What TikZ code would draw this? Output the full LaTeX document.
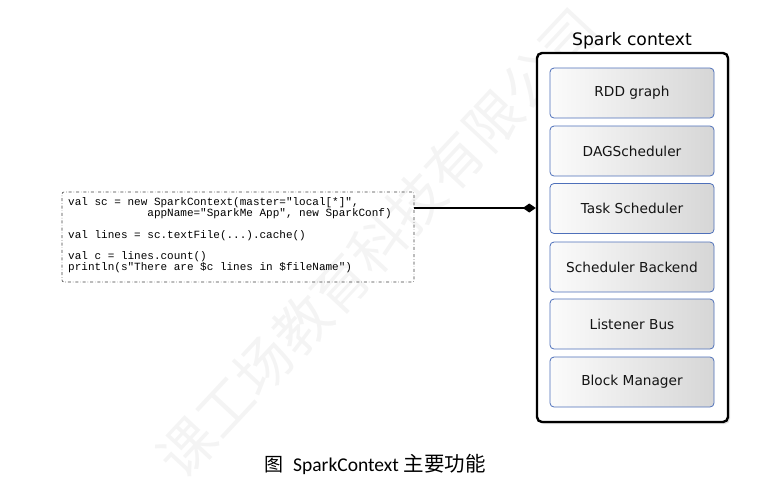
\documentclass[tikz,border=0pt]{standalone}
\usepackage{fontspec}
\setmainfont{DejaVu Sans}
\newfontfamily\codefont{Liberation Mono}
\newfontfamily\capfont{Carlito}
\newfontfamily\cjkfont{Noto Sans CJK SC}
\usetikzlibrary{arrows.meta,shadows}
\definecolor{boxblue}{RGB}{78,112,186}
\begin{document}
\begin{tikzpicture}[x=1pt,y=-1pt,
  comp/.style={draw=boxblue, line width=0.8pt, rounded corners=4pt,
    left color=gray!3, right color=gray!32, minimum width=164pt, minimum height=50pt,
    font=\fontsize{13.7}{16}\selectfont, text=black!92},
  outer/.style={draw=black, line width=2.4pt, rounded corners=5pt, fill=white,
    drop shadow={shadow xshift=2pt, shadow yshift=-2pt, opacity=0.25}},
  codebox/.style={draw=black!75, dash dot, line width=0.6pt, rounded corners=2pt},
  link/.style={line width=2pt, -{Diamond[length=13pt,width=9pt]}}
]
\useasboundingbox (0,0) rectangle (763,483);
% watermark
\node[rotate=47, text=gray!9, font=\cjkfont\fontsize{56}{60}\selectfont, inner sep=0pt]
  (wm) at (378,243) {课工场教育科技有限公司};
% outer container
\node[outer, minimum width=191pt, minimum height=369pt] (ctx) at (632.5,237.5) {};
\node[font=\fontsize{17.2}{20}\selectfont, anchor=base] (title) at (632,45) {Spark context};
\node[comp] (rdd) at (632,93) {RDD graph};
\node[comp] (dag) at (632,151) {DAGScheduler};
\node[comp] (task) at (632,208.5) {Task Scheduler};
\node[comp] (sb) at (632,267) {Scheduler Backend};
\node[comp] (lb) at (632,324) {Listener Bus};
\node[comp] (bm) at (632,382) {Block Manager};
% code box
\node[codebox, minimum width=352pt, minimum height=90pt] (code) at (238,237) {};
\node[anchor=north west, inner sep=0pt, align=left,
  font=\codefont\fontsize{11}{10.8}\selectfont] (codetxt) at (68,197.5)
  {val sc = new SparkContext(master="local[*]",\\
  \hspace*{79.2pt}appName="SparkMe App", new SparkConf)\\[10.8pt]
  val lines = sc.textFile(...).cache()\\[10.8pt]
  val c = lines.count()\\
  println(s"There are \$c lines in \$fileName")};
\coordinate (src) at (code.east |- 0,208);
\coordinate (dst) at (ctx.west |- 0,208);
\draw[link] (src) -- (dst);
% caption
\node[anchor=base west, inner sep=0pt] (cap) at (264,471)
  {\cjkfont\fontsize{19}{20}\selectfont 图\hspace{10pt}\capfont\fontsize{19.5}{20}\selectfont SparkContext\hspace{5pt}\cjkfont\fontsize{20.5}{20}\selectfont 主要功能};
\end{tikzpicture}
\end{document}
